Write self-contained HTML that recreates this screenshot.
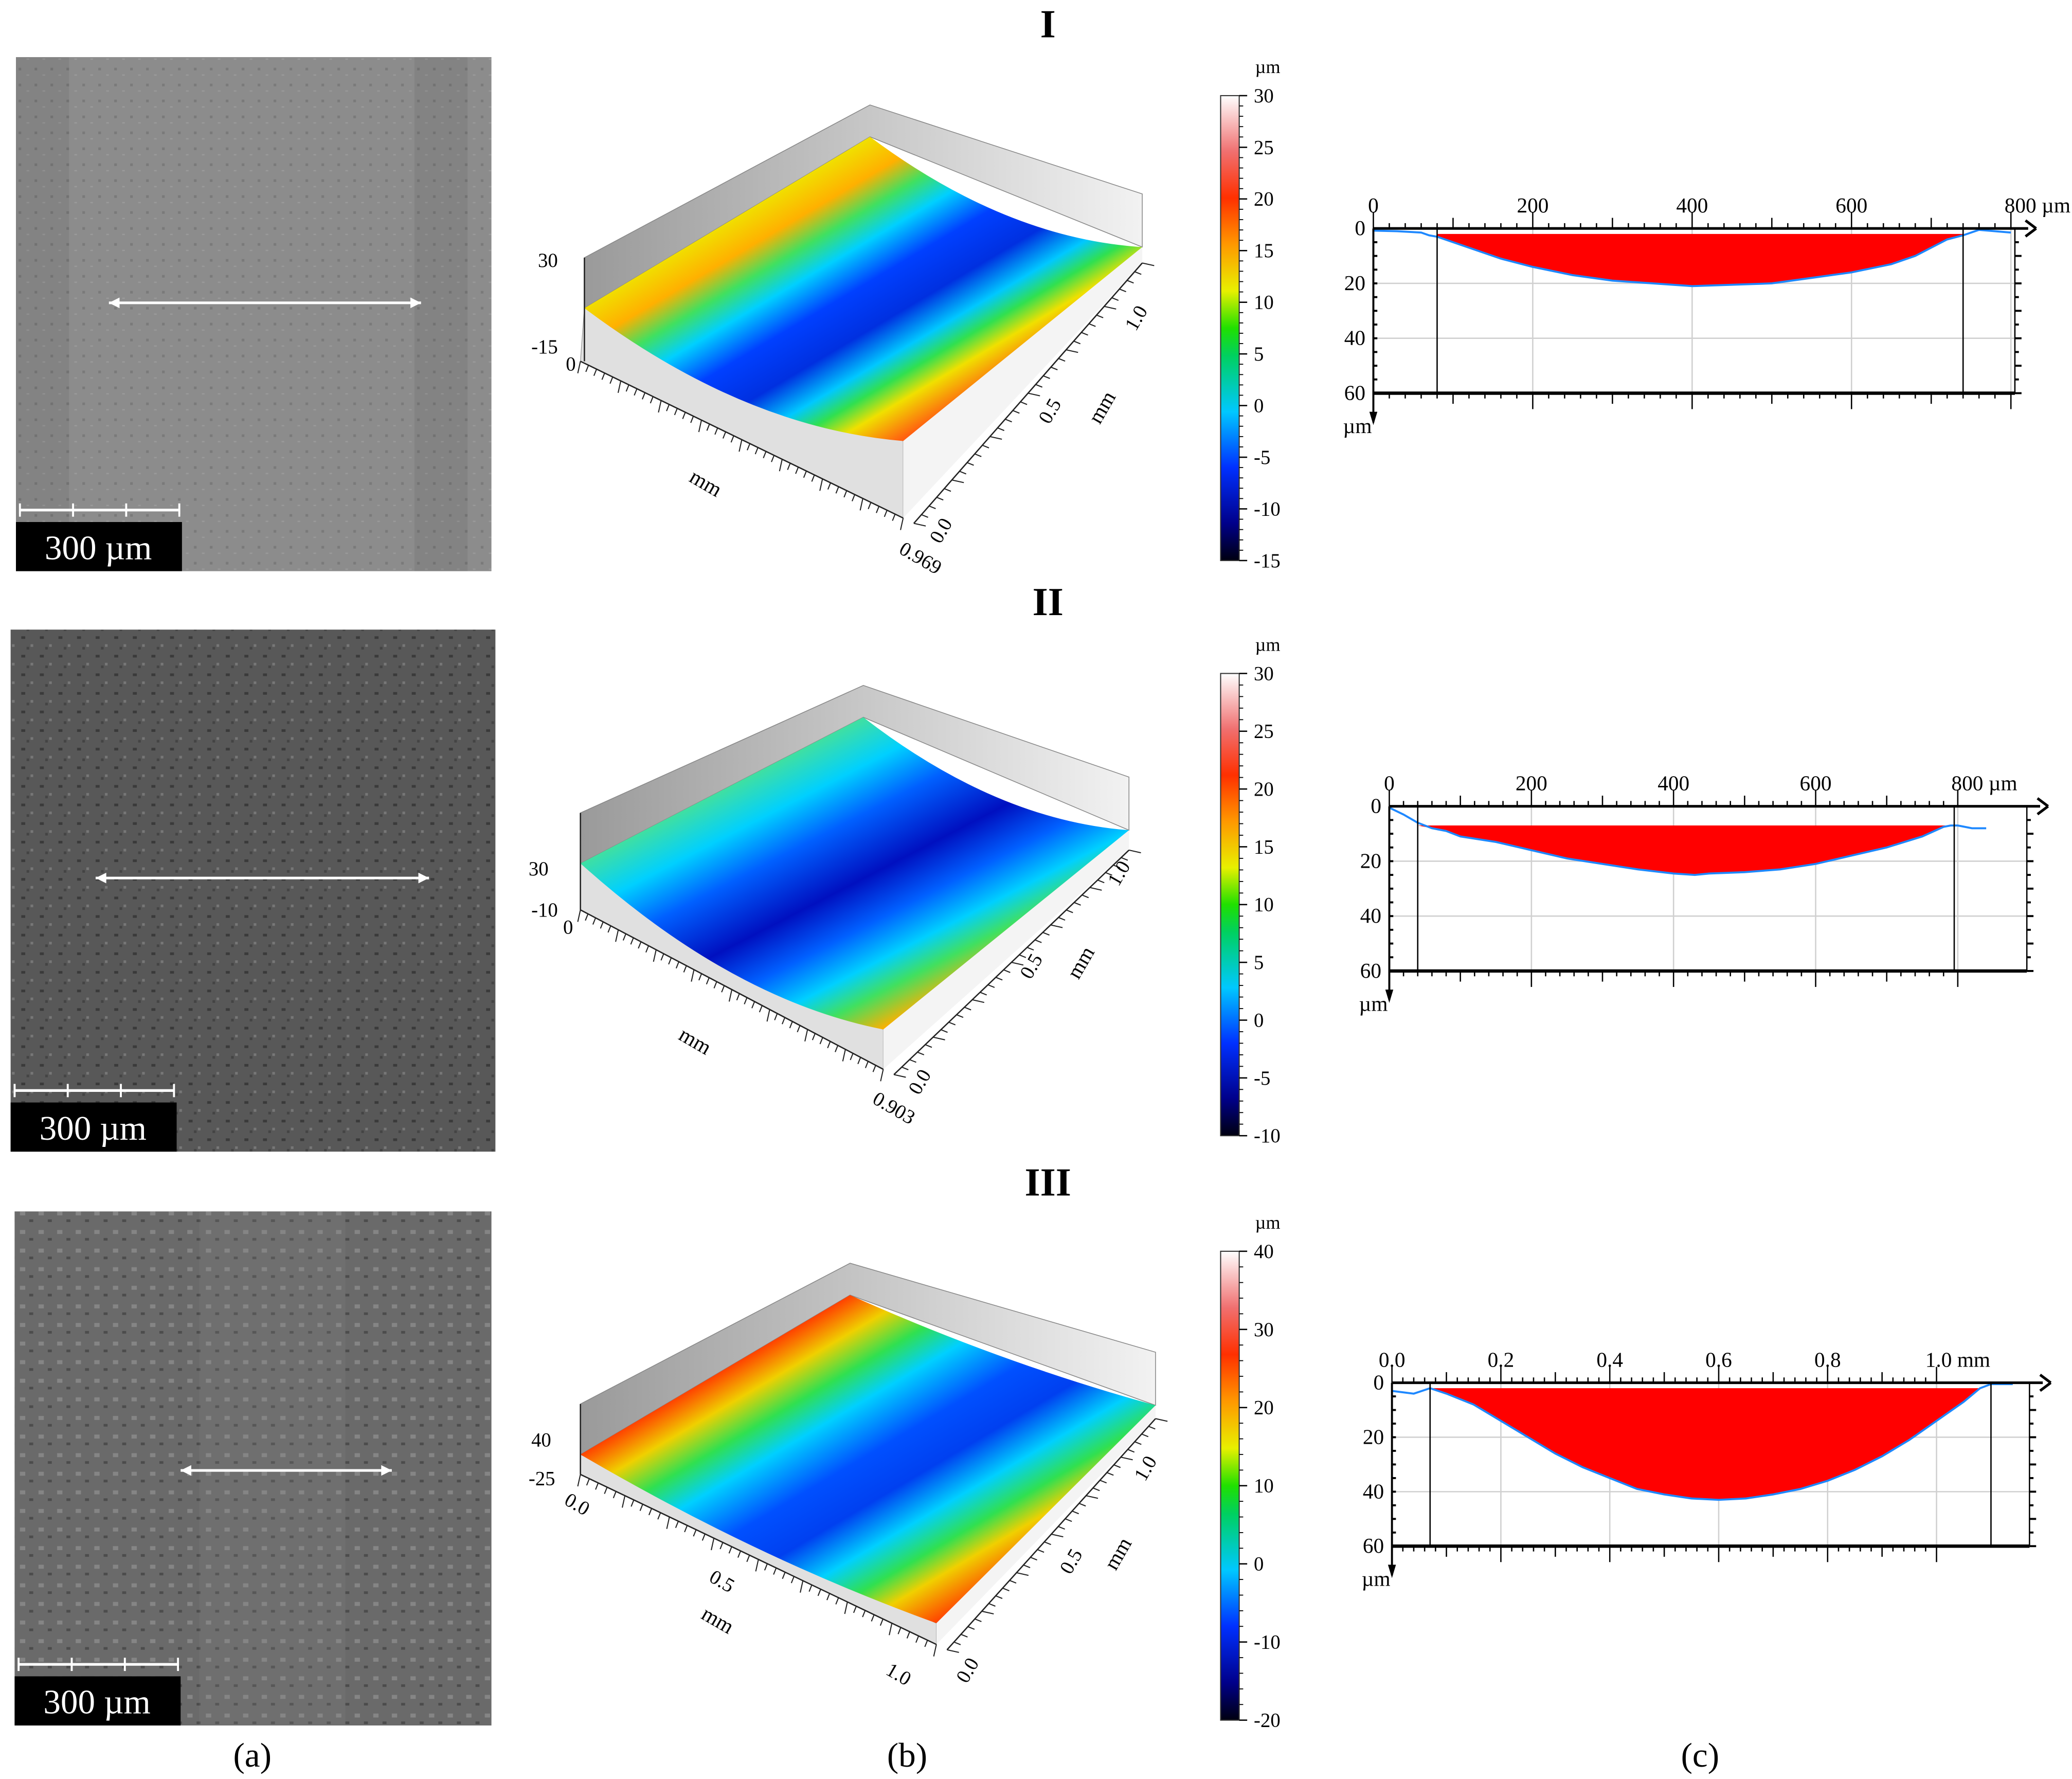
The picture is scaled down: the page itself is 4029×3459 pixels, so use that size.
<!DOCTYPE html>
<html><head><meta charset="utf-8"><style>
html,body{margin:0;padding:0;background:#fff}
svg{display:block}
text{font-family:"Liberation Serif",serif}
</style></head><body>
<svg id="fig" width="4029" height="3459" viewBox="0 0 1560 1339.3" xmlns="http://www.w3.org/2000/svg">
<defs>
<linearGradient id="cbar" x1="0" y1="1" x2="0" y2="0">
<stop offset="0" stop-color="#000010"/><stop offset="0.08" stop-color="#00008a"/><stop offset="0.2" stop-color="#0030ff"/><stop offset="0.32" stop-color="#00c8ff"/><stop offset="0.44" stop-color="#00d060"/><stop offset="0.5" stop-color="#20e000"/><stop offset="0.58" stop-color="#e8f000"/><stop offset="0.68" stop-color="#ff9800"/><stop offset="0.78" stop-color="#ff3000"/><stop offset="0.88" stop-color="#f07070"/><stop offset="1" stop-color="#ffffff"/>
</linearGradient>
<linearGradient id="s1" gradientUnits="userSpaceOnUse" x1="547" y1="167" x2="653" y2="346">
<stop offset="0" stop-color="#f0e000"/><stop offset="0.12" stop-color="#ffb000"/><stop offset="0.22" stop-color="#40e060"/><stop offset="0.32" stop-color="#00d0ff"/><stop offset="0.45" stop-color="#0040ff"/><stop offset="0.6" stop-color="#0030e0"/><stop offset="0.72" stop-color="#00c8ff"/><stop offset="0.8" stop-color="#30e050"/><stop offset="0.88" stop-color="#f0e000"/><stop offset="1" stop-color="#ff6010"/>
</linearGradient>
<linearGradient id="s2" gradientUnits="userSpaceOnUse" x1="543" y1="595" x2="642" y2="787">
<stop offset="0" stop-color="#40e0a0"/><stop offset="0.15" stop-color="#00d0ff"/><stop offset="0.3" stop-color="#0060ff"/><stop offset="0.5" stop-color="#0010c0"/><stop offset="0.65" stop-color="#0060ff"/><stop offset="0.78" stop-color="#00d0ff"/><stop offset="0.88" stop-color="#40e060"/><stop offset="1" stop-color="#ffb000"/>
</linearGradient>
<linearGradient id="s3" gradientUnits="userSpaceOnUse" x1="538" y1="1035" x2="663" y2="1247">
<stop offset="0" stop-color="#ff4000"/><stop offset="0.1" stop-color="#f0d000"/><stop offset="0.2" stop-color="#30e050"/><stop offset="0.3" stop-color="#00d0ff"/><stop offset="0.45" stop-color="#0050ff"/><stop offset="0.58" stop-color="#0040f0"/><stop offset="0.7" stop-color="#00d0ff"/><stop offset="0.8" stop-color="#30e050"/><stop offset="0.88" stop-color="#f0d000"/><stop offset="1" stop-color="#ff4000"/>
</linearGradient>
<linearGradient id="wall" x1="0" y1="0" x2="1" y2="0"><stop offset="0" stop-color="#9a9a9a"/><stop offset="1" stop-color="#f2f2f2"/></linearGradient>
<pattern id="n1" width="12" height="12" patternUnits="userSpaceOnUse"><rect width="12" height="12" fill="#8c8c8c"/><rect x="2" y="3" width="2" height="2" fill="#7a7a7a"/><rect x="8" y="8" width="2" height="1" fill="#9a9a9a"/></pattern>
<pattern id="n2" width="14" height="14" patternUnits="userSpaceOnUse"><rect width="14" height="14" fill="#585858"/><rect x="2" y="3" width="3" height="2" fill="#3a3a3a"/><rect x="9" y="9" width="2" height="2" fill="#777"/><rect x="6" y="11" width="2" height="2" fill="#444"/></pattern>
<pattern id="n3" width="14" height="14" patternUnits="userSpaceOnUse"><rect width="14" height="14" fill="#6a6a6a"/><rect x="1" y="2" width="4" height="3" fill="#858585"/><rect x="8" y="8" width="3" height="2" fill="#4c4c4c"/></pattern>
</defs>
<g id="root"></g>
</svg>
<script>
// ---------- chart data ----------
var rowTitles = ["I","II","III"];
var panelLabels = ["(a)","(b)","(c)"];
var cbarTicks1 = [30,25,20,15,10,5,0,-5,-10,-15];
var cbarTicks2 = [30,25,20,15,10,5,0,-5,-10];
var cbarTicks3 = [40,30,20,10,0,-10,-20];
var xTicks1 = [0,200,400,600,800];
var xTicks2 = [0,200,400,600,800];
var xTicks3 = [0.0,0.2,0.4,0.6,0.8,1.0];
var yTicks = [0,20,40,60];
// profile I: x (µm) and depth (µm)
var p1x = [0,30,60,70,80,100,130,160,200,250,300,350,400,450,500,550,600,650,680,700,720,740,760,780,800];
var p1d = [0.8,1,1.5,2.5,3,5,8,11,14,17,19,20,21,20.5,20,18,16,13,10,7,4,2.5,0.5,1,1.5];
// profile II
var p2x = [0,20,40,60,80,100,150,200,250,300,350,400,430,450,500,550,600,650,700,750,780,790,800,820,840];
var p2d = [0.5,3,6,8,9,11,13,16,19,21,23,24.5,25,24.5,24,23,21,18,15,11,7.5,7,7,8,8];
// profile III: x (mm) and depth (µm)
var p3x = [0.0,0.04,0.07,0.1,0.15,0.2,0.25,0.3,0.35,0.4,0.45,0.5,0.55,0.6,0.65,0.7,0.75,0.8,0.85,0.9,0.95,1.0,1.05,1.08,1.1,1.14];
var p3d = [3,4,2,4,8,14,20,26,31,35,39,41,42.5,43,42.5,41,39,36,32,27,21,14,7,2,0.5,0.5];
var dataRange1 = [80,740], dataRange2 = [40,795], dataRange3 = [0.07,1.1];
var plateau1 = 2, plateau2 = 7, plateau3 = 2;

var NS="http://www.w3.org/2000/svg";
var root=document.getElementById('root');
function el(tag,attrs,parent,txt){var e=document.createElementNS(NS,tag);for(var k in attrs)e.setAttribute(k,attrs[k]);if(txt!==undefined)e.textContent=txt;(parent||root).appendChild(e);return e;}

// titles
var titleY=[28,463,900];
rowTitles.forEach(function(t,i){var e=el('text',{x:789,y:titleY[i],'font-size':30,'font-weight':'bold','text-anchor':'middle'},root,t);

});
var plX=[190,683,1280];
panelLabels.forEach(function(t,i){var e=el('text',{x:plX[i],y:1330,'font-size':26,'text-anchor':'middle'},root,t);

});

// SEM images
var sem=[{x:12,y:43,w:358,h:387,f:'url(#n1)',ax:[82,317,228]},{x:8,y:474,w:365,h:393,f:'url(#n2)',ax:[72,323,661]},{x:11,y:912,w:359,h:387,f:'url(#n3)',ax:[136,295,1107]}];
sem.forEach(function(s,i){
 var g=el('g',{});
 
 
 el('rect',{x:s.x,y:s.y,width:s.w,height:s.h,fill:s.f},g);
 if(i==0){el('rect',{x:s.x,y:s.y,width:40,height:s.h,fill:'#000',opacity:0.06},g);el('rect',{x:s.x+300,y:s.y,width:40,height:s.h,fill:'#000',opacity:0.06},g);}
 if(i==2){el('rect',{x:150,y:s.y,width:110,height:s.h,fill:'#888',opacity:0.2},g);}
 var y=s.ax[2];
 el('line',{x1:s.ax[0],y1:y,x2:s.ax[1],y2:y,stroke:'#fff','stroke-width':2},g);
 el('path',{d:'M'+s.ax[0]+' '+y+'l8 -4v8z M'+s.ax[1]+' '+y+'l-8 -4v8z',fill:'#fff'},g);
 var by=s.y+s.h-37;
 el('rect',{x:s.x,y:by,width:125,height:37,fill:'#000'},g);
 el('line',{x1:s.x+3,y1:by-9,x2:s.x+123,y2:by-9,stroke:'#fff','stroke-width':2},g);
 for(var k=0;k<=3;k++)el('line',{x1:s.x+3+k*40,y1:by-14,x2:s.x+3+k*40,y2:by-4,stroke:'#fff','stroke-width':1.5},g);
 var t=el('text',{x:s.x+62,y:by+28,'font-size':26,fill:'#fff','text-anchor':'middle'},g,'300 µm');
});

// 3D surfaces
var surf=[
 {nl:[440,232],fl:[655,103],fr:[860,186],nr:[680,332],g:'url(#s1)',
  labels:[['30',405,201],['-15',400,266],['0',426,279],['0.969',676,416,30],['0.0',708,410,-60],['0.5',790,320,-60],['1.0',855,250,-60]],
  mm:[[518,362,30],[828,320,-60]], edge:[[437,272],[680,390],[860,198]]},
 {nl:[437,650],fl:[650,540],fr:[850,625],nr:[665,775],g:'url(#s2)',
  labels:[['30',398,659],['-10',400,690],['0',424,703],['0.903',656,830,30],['0.0',692,825,-60],['0.5',776,738,-60],['1.0',842,668,-60]],
  mm:[[510,782,30],[812,738,-60]], edge:[[437,685],[665,805],[850,640]]},
 {nl:[437,1095],fl:[640,975],fr:[870,1058],nr:[705,1222],g:'url(#s3)',
  labels:[['40',400,1089],['-25',398,1118],['0.0',424,1132,30],['0.5',533,1190,30],['1.0',666,1260,30],['0.0',728,1268,-60],['0.5',806,1186,-60],['1.0',862,1116,-60]],
  mm:[[527,1218,30],[840,1183,-60]], edge:[[437,1110],[705,1238],[870,1068]]}];
surf.forEach(function(s,i){
 var g=el('g',{});
 
 
 var nl=s.nl,fl=s.fl,fr=s.fr,nr=s.nr;
 el('path',{d:'M'+nl[0]+' '+(nl[1]-38)+'L'+fl[0]+' '+(fl[1]-24)+'L'+fr[0]+' '+(fr[1]-40)+'L'+fr[0]+' '+fr[1]+'L'+fl[0]+' '+fl[1]+'L'+nl[0]+' '+nl[1]+'Z',fill:'url(#wall)',stroke:'#888','stroke-width':0.6},g);
 el('path',{d:'M'+nl[0]+' '+nl[1]+'L'+nr[0]+' '+nr[1]+'L'+s.edge[1][0]+' '+s.edge[1][1]+'L'+s.edge[0][0]+' '+s.edge[0][1]+'Z',fill:'#e0e0e0',stroke:'#999','stroke-width':0.5},g);
 el('path',{d:'M'+nr[0]+' '+nr[1]+'L'+fr[0]+' '+fr[1]+'L'+s.edge[2][0]+' '+s.edge[2][1]+'L'+s.edge[1][0]+' '+s.edge[1][1]+'Z',fill:'#f4f4f4'},g);
 var mx=(nl[0]+nr[0])/2, my=(nl[1]+nr[1])/2+(i==2?15:40);
 el('path',{d:'M'+nl[0]+' '+nl[1]+'L'+fl[0]+' '+fl[1]+'Q'+((fl[0]+fr[0])/2)+' '+((fl[1]+fr[1])/2+(i==2?10:35))+' '+fr[0]+' '+fr[1]+'L'+nr[0]+' '+nr[1]+'Q'+mx+' '+my+' '+nl[0]+' '+nl[1]+'Z',fill:s.g},g);
 var e=s.edge;
 el('line',{x1:e[0][0],y1:e[0][1],x2:e[1][0],y2:e[1][1],stroke:'#222','stroke-width':1},g);
 el('line',{x1:e[1][0]+8,y1:e[1][1]+4,x2:e[2][0],y2:e[2][1],stroke:'#222','stroke-width':1},g);
 for(var k=0;k<=40;k++){var t=k/40,x=e[0][0]+(e[1][0]-e[0][0])*t,y=e[0][1]+(e[1][1]-e[0][1])*t;el('line',{x1:x,y1:y,x2:x-2,y2:y+(k%5?5:9),stroke:'#222','stroke-width':0.8},g);}
 for(var k=0;k<=30;k++){var t=k/30,x=e[1][0]+8+(e[2][0]-e[1][0]-8)*t,y=e[1][1]+4+(e[2][1]-e[1][1]-4)*t;el('line',{x1:x,y1:y,x2:x+(k%5?5:9),y2:y+2,stroke:'#222','stroke-width':0.8},g);}
 el('line',{x1:nl[0],y1:nl[1]-38,x2:nl[0],y2:e[0][1],stroke:'#222','stroke-width':1},g);
 s.labels.forEach(function(l){var a={x:l[1],y:l[2],'font-size':15};if(l[3])a.transform='rotate('+l[3]+' '+l[1]+' '+l[2]+')';el('text',a,g,l[0]);});
 s.mm.forEach(function(m){el('text',{x:m[0],y:m[1],'font-size':16,transform:'rotate('+m[2]+' '+m[0]+' '+m[1]+')'},g,'mm');});
});

// colorbars
function colorbar(idx,top,bot,ticks){
 var g=el('g',{});
 
 
 el('rect',{x:919,y:top,width:14,height:bot-top,fill:'url(#cbar)',stroke:'#333','stroke-width':0.8},g);
 el('text',{x:945,y:top-17,'font-size':14},g,'µm');
 var mx=ticks[0],mn=ticks[ticks.length-1];
 function ys(v){return bot-(v-mn)/(mx-mn)*(bot-top);}
 ticks.forEach(function(v){var y=ys(v);el('line',{x1:933,y1:y,x2:939,y2:y,stroke:'#000'},g);el('text',{x:944,y:y+5,'font-size':15},g,String(v));});
 for(var v=mn;v<=mx;v+=(mx-mn)/((ticks.length-1)*5)){var y=ys(v);el('line',{x1:933,y1:y,x2:936,y2:y,stroke:'#000','stroke-width':0.7},g);}
}
colorbar(1,72,422,cbarTicks1);
colorbar(2,507,855,cbarTicks2);
colorbar(3,942,1295,cbarTicks3);

// profiles
function profile(idx,o){
 var g=el('g',{});
 
 
 var L=o.L,R=o.R,T=o.T,B=o.B;
 function xs(v){return L+(v-o.xmin)/(o.xmax-o.xmin)*(o.x1-L);}
 function ys(v){return T+v/60*(B-T);}
 o.xt.forEach(function(v){var x=xs(v);el('line',{x1:x,y1:T,x2:x,y2:B,stroke:'#d0d0d0','stroke-width':1},g);});
 yTicks.forEach(function(v){var y=ys(v);el('line',{x1:L,y1:y,x2:R,y2:y,stroke:'#d0d0d0','stroke-width':1},g);});
 var pts=[],inPts=[];
 o.px.forEach(function(v,i){pts.push([xs(v),ys(o.pd[i])]);if(v>=o.rng[0]&&v<=o.rng[1])inPts.push([xs(v),ys(Math.max(o.pd[i],o.plat))]);});
 var d='M'+xs(o.rng[0])+' '+ys(o.plat);
 inPts.forEach(function(p){d+='L'+p[0]+' '+p[1];});
 d+='L'+xs(o.rng[1])+' '+ys(o.plat)+'Z';
 var f=el('path',{d:d,fill:'#ff0000'},g);
 
 
 var ln=el('polyline',{points:pts.map(function(p){return p.join(',');}).join(' '),fill:'none',stroke:'#1e88ff','stroke-width':1.5},g);
 
 
 [o.rng[0],o.rng[1]].forEach(function(v){el('line',{x1:xs(v),y1:T,x2:xs(v),y2:B,stroke:'#000','stroke-width':1},g);});
 el('line',{x1:L,y1:B,x2:R,y2:B,stroke:'#000','stroke-width':2.5},g);
 el('line',{x1:R,y1:T,x2:R,y2:B,stroke:'#000','stroke-width':1},g);
 el('line',{x1:L,y1:T,x2:R+10,y2:T,stroke:'#000','stroke-width':2},g);
 el('path',{d:'M'+(R+16)+' '+T+'l-8 -6 M'+(R+16)+' '+T+'l-8 6',stroke:'#000','stroke-width':2,fill:'none'},g);
 el('line',{x1:L,y1:T,x2:L,y2:B+22,stroke:'#000','stroke-width':1.5},g);
 el('path',{d:'M'+L+' '+(B+24)+'l-3 -10h6z',fill:'#000'},g);
 var step=(o.xt[1]-o.xt[0])/10;
 for(var v=o.xmin;v<=o.xmax+1e-9;v+=step){var x=xs(v),k=Math.round((v-o.xmin)/step);var h=k%10==0?12:(k%5==0?8:4);
  el('line',{x1:x,y1:T,x2:x,y2:T-h,stroke:'#000','stroke-width':1},g);
  el('line',{x1:x,y1:B,x2:x,y2:B+h,stroke:'#000','stroke-width':1},g);}
 for(var v=0;v<=60;v+=5){var y=ys(v);el('line',{x1:R,y1:y,x2:R+(v%10?3:5),y2:y,stroke:'#000','stroke-width':1.5},g);el('line',{x1:L,y1:y,x2:L+3,y2:y,stroke:'#000','stroke-width':1.5},g);}
 o.xt.forEach(function(v,i){var s=o.fmt(v);if(i==o.xt.length-1)s+=o.unit;el('text',{x:xs(v)+(i==o.xt.length-1?(o.unit==' mm'?16:20):0),y:T-12,'font-size':16,'text-anchor':'middle'},g,s);});
 yTicks.forEach(function(v){el('text',{x:L-6,y:ys(v)+5,'font-size':16,'text-anchor':'end'},g,String(v));});
 el('text',{x:L-12,y:B+30,'font-size':16,'text-anchor':'middle'},g,'µm');
}
profile(1,{L:1034,R:1517,T:172,B:296,x1:1514,xmin:0,xmax:800,xt:xTicks1,px:p1x,pd:p1d,rng:dataRange1,plat:plateau1,unit:' µm',fmt:function(v){return String(v);}});
profile(2,{L:1046,R:1526,T:607,B:731,x1:1474,xmin:0,xmax:800,xt:xTicks2,px:p2x,pd:p2d,rng:dataRange2,plat:plateau2,unit:' µm',fmt:function(v){return String(v);}});
profile(3,{L:1048,R:1528,T:1041,B:1164,x1:1458,xmin:0,xmax:1.0,xt:xTicks3,px:p3x,pd:p3d,rng:dataRange3,plat:plateau3,unit:' mm',fmt:function(v){return v.toFixed(1);}});
</script>
</body></html>
